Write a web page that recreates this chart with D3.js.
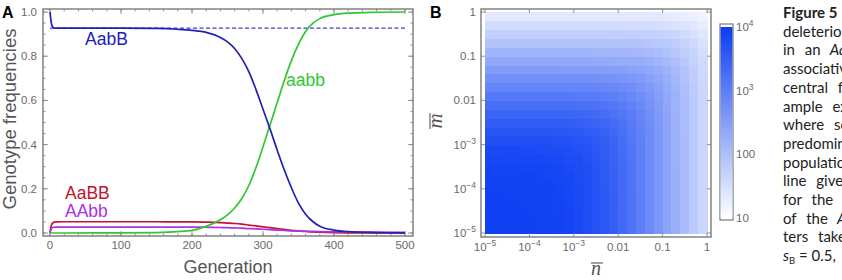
<!DOCTYPE html>
<html>
<head>
<meta charset="utf-8">
<script src="https://cdn.jsdelivr.net/npm/d3@7"></script>
<style>
  body { margin: 0; background: #fff; }
</style>
</head>
<body>
<script>
// ---- Panel A data: genotype frequencies over generations ----
const generations = [0, 1, 2, 3, 5, 8, 20, 100, 150, 180, 200, 220, 240, 250, 260, 270, 280, 290, 300, 310, 320, 330, 340, 350, 360, 370, 380, 400, 420, 450, 500];
const freqAabB = [1.0, 0.97, 0.948, 0.936, 0.929, 0.927, 0.927, 0.927, 0.926, 0.922, 0.917, 0.908, 0.885, 0.865, 0.835, 0.79, 0.73, 0.65, 0.56, 0.47, 0.375, 0.285, 0.205, 0.135, 0.085, 0.052, 0.031, 0.013, 0.006, 0.003, 0.001];
const freqAabb = [0, 0, 0, 0, 0, 0, 0, 0.0005, 0.002, 0.006, 0.012, 0.03, 0.06, 0.082, 0.113, 0.155, 0.215, 0.295, 0.39, 0.49, 0.59, 0.69, 0.78, 0.855, 0.912, 0.948, 0.97, 0.988, 0.995, 0.998, 1.0];
const freqAaBB = [0, 0.022, 0.035, 0.042, 0.048, 0.05, 0.051, 0.051, 0.051, 0.05, 0.05, 0.049, 0.047, 0.045, 0.043, 0.04, 0.036, 0.032, 0.028, 0.024, 0.02, 0.016, 0.012, 0.009, 0.007, 0.005, 0.004, 0.002, 0.001, 0.0005, 0];
const freqAAbb = [0, 0.014, 0.021, 0.024, 0.026, 0.027, 0.027, 0.027, 0.027, 0.027, 0.027, 0.026, 0.025, 0.024, 0.023, 0.022, 0.02, 0.019, 0.017, 0.015, 0.013, 0.012, 0.01, 0.009, 0.008, 0.007, 0.006, 0.005, 0.0045, 0.004, 0.003];
const plateauAabB = 0.927;
const yTicksA = [0, 0.2, 0.4, 0.6, 0.8, 1.0];
const xTicksA = [0, 100, 200, 300, 400, 500];

// ---- Panel B data: log10 of value on an (n, m) grid ----
// cell lower edges (log10), 5 cells per decade
const cellEdges = [-5, -4.8, -4.6, -4.4, -4.2, -4, -3.8, -3.6, -3.4, -3.2, -3, -2.8, -2.6, -2.4, -2.2, -2, -1.8, -1.6, -1.4, -1.2, -1, -0.8, -0.6, -0.4, -0.2];
const cellStep = 0.2;
// rows: m from 1e-5 (first) up to 1 (last); columns: n from 1e-5 to 1
const logValue = [
  [3.95,3.95,3.95,3.95,3.94,3.94,3.93,3.92,3.90,3.87,3.83,3.77,3.69,3.59,3.47,3.33,3.17,2.99,2.81,2.62,2.43,2.24,2.04,1.84,1.64],
  [3.95,3.95,3.95,3.94,3.94,3.94,3.93,3.92,3.90,3.87,3.83,3.77,3.69,3.59,3.47,3.33,3.17,2.99,2.81,2.62,2.43,2.24,2.04,1.84,1.64],
  [3.95,3.95,3.94,3.94,3.94,3.93,3.93,3.91,3.90,3.87,3.83,3.77,3.69,3.59,3.47,3.33,3.17,2.99,2.81,2.62,2.43,2.24,2.04,1.84,1.64],
  [3.94,3.94,3.94,3.94,3.93,3.93,3.92,3.91,3.89,3.86,3.82,3.77,3.69,3.59,3.47,3.32,3.17,2.99,2.81,2.62,2.43,2.24,2.04,1.84,1.64],
  [3.94,3.94,3.93,3.93,3.93,3.92,3.92,3.90,3.89,3.86,3.82,3.76,3.69,3.59,3.47,3.32,3.16,2.99,2.81,2.62,2.43,2.24,2.04,1.84,1.64],
  [3.93,3.93,3.92,3.92,3.92,3.91,3.91,3.90,3.88,3.85,3.81,3.76,3.68,3.58,3.46,3.32,3.16,2.99,2.81,2.62,2.43,2.24,2.04,1.84,1.64],
  [3.91,3.91,3.91,3.91,3.90,3.90,3.89,3.88,3.86,3.84,3.80,3.75,3.67,3.58,3.46,3.32,3.16,2.99,2.81,2.62,2.43,2.24,2.04,1.84,1.64],
  [3.89,3.89,3.89,3.89,3.88,3.88,3.87,3.86,3.84,3.82,3.78,3.73,3.66,3.57,3.45,3.31,3.16,2.99,2.81,2.62,2.43,2.23,2.04,1.84,1.64],
  [3.86,3.86,3.85,3.85,3.85,3.85,3.84,3.83,3.81,3.79,3.76,3.71,3.64,3.55,3.44,3.30,3.15,2.98,2.80,2.62,2.43,2.23,2.04,1.84,1.64],
  [3.81,3.81,3.81,3.81,3.80,3.80,3.79,3.78,3.77,3.75,3.72,3.67,3.61,3.53,3.42,3.29,3.14,2.98,2.80,2.62,2.43,2.23,2.04,1.84,1.64],
  [3.74,3.74,3.74,3.74,3.74,3.73,3.73,3.72,3.71,3.69,3.66,3.62,3.57,3.49,3.39,3.27,3.12,2.97,2.79,2.61,2.42,2.23,2.04,1.84,1.64],
  [3.65,3.65,3.65,3.65,3.65,3.65,3.64,3.64,3.63,3.61,3.59,3.55,3.51,3.44,3.35,3.24,3.10,2.95,2.78,2.60,2.42,2.23,2.03,1.84,1.64],
  [3.54,3.54,3.54,3.54,3.54,3.54,3.53,3.53,3.52,3.51,3.49,3.46,3.42,3.37,3.29,3.19,3.07,2.92,2.76,2.59,2.41,2.22,2.03,1.84,1.64],
  [3.41,3.41,3.41,3.41,3.41,3.41,3.40,3.40,3.39,3.38,3.37,3.35,3.32,3.27,3.21,3.13,3.02,2.89,2.74,2.58,2.40,2.22,2.03,1.83,1.64],
  [3.26,3.26,3.26,3.26,3.26,3.25,3.25,3.25,3.25,3.24,3.23,3.22,3.19,3.16,3.11,3.04,2.95,2.84,2.70,2.55,2.38,2.20,2.02,1.83,1.63],
  [3.09,3.09,3.09,3.09,3.09,3.09,3.09,3.09,3.08,3.08,3.07,3.06,3.05,3.02,2.98,2.93,2.86,2.77,2.65,2.51,2.36,2.19,2.01,1.82,1.63],
  [2.91,2.91,2.91,2.91,2.91,2.91,2.91,2.91,2.91,2.91,2.90,2.89,2.88,2.87,2.84,2.80,2.75,2.67,2.58,2.46,2.32,2.16,1.99,1.81,1.62],
  [2.73,2.73,2.73,2.73,2.73,2.73,2.73,2.73,2.73,2.72,2.72,2.72,2.71,2.70,2.68,2.65,2.61,2.56,2.48,2.38,2.26,2.12,1.96,1.79,1.61],
  [2.54,2.54,2.54,2.54,2.54,2.54,2.54,2.54,2.54,2.53,2.53,2.53,2.52,2.52,2.51,2.49,2.46,2.42,2.36,2.29,2.19,2.07,1.92,1.76,1.59],
  [2.34,2.34,2.34,2.34,2.34,2.34,2.34,2.34,2.34,2.34,2.34,2.34,2.34,2.33,2.32,2.31,2.29,2.27,2.23,2.17,2.09,1.99,1.87,1.72,1.57],
  [2.15,2.15,2.15,2.15,2.15,2.15,2.15,2.15,2.15,2.15,2.15,2.15,2.14,2.14,2.14,2.13,2.12,2.10,2.07,2.03,1.97,1.89,1.79,1.67,1.53],
  [1.95,1.95,1.95,1.95,1.95,1.95,1.95,1.95,1.95,1.95,1.95,1.95,1.95,1.95,1.94,1.94,1.93,1.92,1.90,1.87,1.83,1.77,1.69,1.59,1.47],
  [1.75,1.75,1.75,1.75,1.75,1.75,1.75,1.75,1.75,1.75,1.75,1.75,1.75,1.75,1.75,1.74,1.74,1.73,1.72,1.70,1.67,1.63,1.57,1.49,1.39],
  [1.55,1.55,1.55,1.55,1.55,1.55,1.55,1.55,1.55,1.55,1.55,1.55,1.55,1.55,1.55,1.55,1.54,1.54,1.53,1.52,1.50,1.47,1.43,1.37,1.30],
  [1.35,1.35,1.35,1.35,1.35,1.35,1.35,1.35,1.35,1.35,1.35,1.35,1.35,1.35,1.35,1.35,1.35,1.35,1.34,1.33,1.32,1.30,1.27,1.23,1.17]
];
const logTicksB = [1e-5, 1e-4, 1e-3, 0.01, 0.1, 1];
const colorbarTicks = [10, 100, 1000, 10000];

const captionLines = [
  ["Figure 5"], ["deleterious"], ["in", "an", "AabB"], ["associative"], ["central", "for"],
  ["ample", "example"], ["where", "some"], ["predominant"], ["population"], ["line", "gives"],
  ["for", "the", "time"], ["of", "the", "AabB"], ["ters", "taken"], ["sB = 0.5,"]
];

const W = 842, H = 280;
const frameColor = "#7a7a7a", tickText = "#6a6a6a", titleText = "#555";

const svg = d3.select("body").append("svg")
  .attr("width", W).attr("height", H)
  .attr("font-family", "'Liberation Sans', Arial, sans-serif");

// ---------------- Panel A ----------------
const xA = d3.scaleLinear().domain([0, 500]).range([50, 405]);
const yA = d3.scaleLinear().domain([0, 1]).range([233, 12]);
const frameA = { x0: 43, x1: 413, y0: 9, y1: 236 };

const gA = svg.append("g");

// minor + major ticks pointing inward on all four sides
function ticksLinear(g, vals, len, fr, xs, ys) {
  vals.forEach(v => {
    if (xs) {
      const px = xs(v);
      g.append("line").attr("x1", px).attr("x2", px).attr("y1", fr.y1).attr("y2", fr.y1 - len);
      g.append("line").attr("x1", px).attr("x2", px).attr("y1", fr.y0).attr("y2", fr.y0 + len);
    } else {
      const py = ys(v);
      g.append("line").attr("y1", py).attr("y2", py).attr("x1", fr.x0).attr("x2", fr.x0 + len);
      g.append("line").attr("y1", py).attr("y2", py).attr("x1", fr.x1).attr("x2", fr.x1 - len);
    }
  });
}
const tickG = gA.append("g").attr("stroke", frameColor).attr("stroke-width", 0.8);
ticksLinear(tickG, d3.range(0, 501, 20), 2.5, frameA, xA, null);
ticksLinear(tickG, xTicksA, 5, frameA, xA, null);
ticksLinear(tickG, d3.range(0, 1.001, 0.05), 2.5, frameA, null, yA);
ticksLinear(tickG, yTicksA, 5, frameA, null, yA);

gA.append("rect")
  .attr("x", frameA.x0).attr("y", frameA.y0)
  .attr("width", frameA.x1 - frameA.x0).attr("height", frameA.y1 - frameA.y0)
  .attr("fill", "none").attr("stroke", frameColor).attr("stroke-width", 1.4);

gA.selectAll(".ylab").data(yTicksA).enter().append("text")
  .attr("x", 37).attr("y", d => yA(d) + 4)
  .attr("text-anchor", "end").attr("font-size", 11.5).attr("fill", tickText)
  .text(d => d.toFixed(1));
gA.selectAll(".xlab").data(xTicksA).enter().append("text")
  .attr("x", d => xA(d)).attr("y", 249)
  .attr("text-anchor", "middle").attr("font-size", 11.5).attr("fill", tickText)
  .text(d => d);

gA.append("text").attr("x", 228).attr("y", 273).attr("text-anchor", "middle")
  .attr("font-size", 18).attr("fill", titleText).text("Generation");
gA.append("text").attr("transform", "translate(15.5,119) rotate(-90)").attr("text-anchor", "middle")
  .attr("font-size", 18.5).attr("fill", titleText).text("Genotype frequencies");

// dashed plateau
gA.append("line")
  .attr("x1", xA(0)).attr("x2", xA(500)).attr("y1", yA(plateauAabB)).attr("y2", yA(plateauAabB))
  .attr("stroke", "#3a3fd0").attr("stroke-width", 1.1).attr("stroke-dasharray", "4,2.5");

const series = [
  { name: "AaBB", vals: freqAaBB, color: "#c4122f", lx: 65, ly: 199 },
  { name: "AAbb", vals: freqAAbb, color: "#b02fe0", lx: 65, ly: 217 },
  { name: "aabb", vals: freqAabb, color: "#2fc82f", lx: 286, ly: 86 },
  { name: "AabB", vals: freqAabB, color: "#2121b5", lx: 85, ly: 45 }
];
const line = d3.line().x(d => xA(d[0])).y(d => yA(d[1])).curve(d3.curveMonotoneX);
series.forEach(s => {
  gA.append("path")
    .datum(generations.map((g, i) => [g, s.vals[i]]))
    .attr("d", line).attr("fill", "none")
    .attr("stroke", s.color).attr("stroke-width", 1.7);
  gA.append("text").attr("x", s.lx).attr("y", s.ly)
    .attr("font-size", 17.5).attr("fill", s.color).text(s.name);
});

svg.append("text").attr("x", 2).attr("y", 18).attr("font-size", 16)
  .attr("font-weight", "bold").text("A");

// ---------------- Panel B ----------------
const xB = d3.scaleLog().domain([1e-5, 1]).range([485, 707]);
const yB = d3.scaleLog().domain([1e-5, 1]).range([233, 12]);
const frameB = { x0: 481, x1: 711, y0: 9, y1: 237 };
const color = d3.scaleLinear().domain([1, 4]).range(["#ffffff", "#0b3ef3"]).clamp(true);

const gB = svg.append("g");
const cells = [];
logValue.forEach((row, i) => row.forEach((v, j) => cells.push({ i, j, v })));
gB.append("g").attr("shape-rendering", "crispEdges")
  .selectAll("rect").data(cells).enter().append("rect")
  .attr("x", d => xB(Math.pow(10, cellEdges[d.j])))
  .attr("y", d => yB(Math.pow(10, cellEdges[d.i] + cellStep)))
  .attr("width", d => xB(Math.pow(10, cellEdges[d.j] + cellStep)) - xB(Math.pow(10, cellEdges[d.j])) + 0.6)
  .attr("height", d => yB(Math.pow(10, cellEdges[d.i])) - yB(Math.pow(10, cellEdges[d.i] + cellStep)) + 0.6)
  .attr("fill", d => color(d.v));

const tickB = gB.append("g").attr("stroke", frameColor).attr("stroke-width", 0.8);
logTicksB.forEach(v => {
  const px = xB(v), py = yB(v);
  tickB.append("line").attr("x1", px).attr("x2", px).attr("y1", frameB.y1).attr("y2", frameB.y1 - 4);
  tickB.append("line").attr("x1", px).attr("x2", px).attr("y1", frameB.y0).attr("y2", frameB.y0 + 4);
  tickB.append("line").attr("y1", py).attr("y2", py).attr("x1", frameB.x0).attr("x2", frameB.x0 + 4);
  tickB.append("line").attr("y1", py).attr("y2", py).attr("x1", frameB.x1).attr("x2", frameB.x1 - 4);
});
gB.append("rect")
  .attr("x", frameB.x0).attr("y", frameB.y0)
  .attr("width", frameB.x1 - frameB.x0).attr("height", frameB.y1 - frameB.y0)
  .attr("fill", "none").attr("stroke", frameColor).attr("stroke-width", 1.4);

function logLabel(sel, v) {
  const e = Math.round(Math.log10(v));
  if (e === 0) sel.text("1");
  else if (e === -1) sel.text("0.1");
  else if (e === -2) sel.text("0.01");
  else if (e === 2) sel.text("100");
  else if (e === 1) sel.text("10");
  else {
    sel.text("10");
    sel.append("tspan").attr("dy", -5).attr("font-size", 8.5).text(e < 0 ? "\u2212" + (-e) : e);
  }
}
logTicksB.forEach(v => {
  gB.append("text").attr("x", 476).attr("y", yB(v) + 4)
    .attr("text-anchor", "end").attr("font-size", 11.5).attr("fill", tickText)
    .call(logLabel, v);
  gB.append("text").attr("x", xB(v)).attr("y", 251)
    .attr("text-anchor", "middle").attr("font-size", 11.5).attr("fill", tickText)
    .call(logLabel, v);
});

// axis titles with overbars
const nLab = gB.append("g").attr("transform", "translate(596,275)");
nLab.append("text").attr("text-anchor", "middle").attr("font-family", "'Liberation Serif', serif")
  .attr("font-style", "italic").attr("font-size", 20).attr("fill", "#555").text("n");
nLab.append("line").attr("x1", -5).attr("x2", 7).attr("y1", -12).attr("y2", -12)
  .attr("stroke", "#555").attr("stroke-width", 1.1);
const mLab = gB.append("g").attr("transform", "translate(442,121) rotate(-90)");
mLab.append("text").attr("text-anchor", "middle").attr("font-family", "'Liberation Serif', serif")
  .attr("font-style", "italic").attr("font-size", 21).attr("fill", "#555").text("m");
mLab.append("line").attr("x1", -8).attr("x2", 8).attr("y1", -12).attr("y2", -12)
  .attr("stroke", "#555").attr("stroke-width", 1.1);

svg.append("text").attr("x", 430).attr("y", 18).attr("font-size", 16)
  .attr("font-weight", "bold").text("B");

// colorbar
const yC = d3.scaleLog().domain([10, 1e4]).range([218, 27]);
const grad = svg.append("defs").append("linearGradient").attr("id", "cbar")
  .attr("x1", 0).attr("x2", 0).attr("y1", 1).attr("y2", 0);
d3.range(0, 1.001, 0.1).forEach(t => {
  grad.append("stop").attr("offset", t).attr("stop-color", color(1 + 3 * t));
});
svg.append("rect").attr("x", 720).attr("y", 24).attr("width", 13).attr("height", 196)
  .attr("fill", "#fff").attr("stroke", frameColor).attr("stroke-width", 1.2);
svg.append("rect").attr("x", 720.6).attr("y", yC(1e4)).attr("width", 11.8)
  .attr("height", yC(10) - yC(1e4)).attr("fill", "url(#cbar)");
colorbarTicks.forEach(v => {
  svg.append("text").attr("x", 736).attr("y", yC(v) + 4).attr("font-size", 11.5)
    .attr("fill", tickText).call(logLabel, v);
});

// caption fragment at right edge
const cap = svg.append("g").attr("font-family", "Lato, 'Open Sans', sans-serif")
  .attr("font-size", 15).attr("fill", "#222");
captionLines.forEach((words, k) => {
  const t = cap.append("text").attr("x", 783).attr("y", 18 + k * 18.7);
  if (k === 0) t.attr("font-weight", "bold");
  if (k === 13) {
    t.append("tspan").attr("font-style", "italic").text("s");
    t.append("tspan").attr("font-size", 9.5).attr("dy", 3).text("B");
    t.append("tspan").attr("dy", -3).text(" = 0.5,");
    return;
  }
  t.attr("word-spacing", words.length > 1 ? 6 : 0);
  words.forEach((w, wi) => {
    const sp = t.append("tspan").text((wi ? " " : "") + w);
    if (w === "AabB") sp.attr("font-style", "italic");
  });
});
</script>
</body>
</html>
